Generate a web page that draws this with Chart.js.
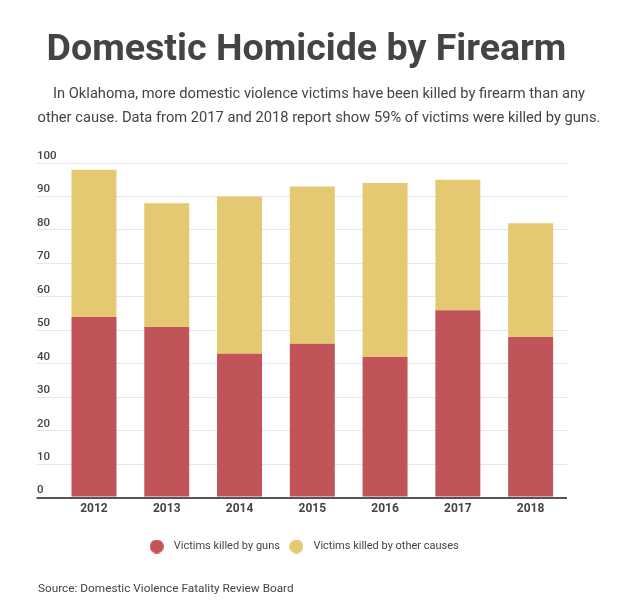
<!DOCTYPE html>
<html>
<head>
<meta charset="utf-8">
<script src="https://cdn.jsdelivr.net/npm/chart.js@4.4.0/dist/chart.umd.min.js"></script>
<style>
  html, body { margin: 0; padding: 0; background: #fff; }
  #wrap { position: relative; width: 628px; height: 600px; overflow: hidden; font-family: Roboto, "Noto Sans", sans-serif; color: #444; }
  #c { position: absolute; left: 0; top: 0; }
  .t { position: absolute; white-space: nowrap; }
  #title { left: 0; width: 613px; top: 26px; text-align: center; font-size: 37.6px; line-height: 42px; font-weight: bold; color: #444; }
  #sub { left: 10px; width: 618px; top: 81px; text-align: center; font-size: 14.7px; line-height: 24px; color: #444; }
  #src { left: 38px; top: 581px; font-size: 11.8px; line-height: 14px; color: #444; }
</style>
</head>
<body>
<div id="wrap">
  <canvas id="c" width="628" height="600"></canvas>
  <div class="t" id="title">Domestic Homicide by Firearm</div>
  <div class="t" id="sub">In Oklahoma, more domestic violence victims have been killed by firearm than any<br>other cause. Data from 2017 and 2018 report show 59% of victims were killed by guns.</div>
  <div class="t" id="src">Source: Domestic Violence Fatality Review Board</div>
</div>
<script>
const years = ['2012', '2013', '2014', '2015', '2016', '2017', '2018'];
const killedByGuns = [54, 51, 43, 46, 42, 56, 48];
const killedByOther = [44, 37, 47, 47, 52, 39, 34];
const yTickValues = [0, 10, 20, 30, 40, 50, 60, 70, 80, 90, 100];
const seriesNames = ['Victims killed by guns', 'Victims killed by other causes'];
const seriesColors = ['#c05458', '#e5c972'];

function dot(color) {
  const c = document.createElement('canvas');
  c.width = 14; c.height = 14;
  const g = c.getContext('2d');
  g.fillStyle = color;
  g.beginPath();
  g.arc(7, 7, 7, 0, Math.PI * 2);
  g.fill();
  return c;
}
const dots = seriesColors.map(dot);

new Chart(document.getElementById('c'), {
  type: 'bar',
  data: {
    labels: years,
    datasets: [
      { label: seriesNames[0], data: killedByGuns, backgroundColor: seriesColors[0], borderWidth: 0 },
      { label: seriesNames[1], data: killedByOther, backgroundColor: seriesColors[1], borderWidth: 0 }
    ]
  },
  options: {
    responsive: false,
    animation: false,
    layout: { padding: { top: 163, left: 37, right: 61, bottom: 38 } },
    datasets: { bar: { categoryPercentage: 1, barPercentage: 0.618 } },
    scales: {
      x: {
        stacked: true,
        grid: { display: false, drawTicks: false },
        border: { display: false },
        ticks: { color: '#444', padding: 4, font: { family: 'Roboto', size: 12, weight: 'bold' } },
        afterFit: s => { s.height += 16; }
      },
      y: {
        stacked: true,
        min: 0,
        max: 100,
        afterBuildTicks: s => { s.ticks = yTickValues.map(v => ({ value: v })); },
        afterFit: s => { s.width = 20.6; },
        border: { display: false },
        grid: {
          color: ctx => (ctx.tick && ctx.tick.value === 0) ? '#555' : '#e6e6e6',
          lineWidth: ctx => (ctx.tick && ctx.tick.value === 0) ? 2 : 1,
          tickLength: 21,
          drawTicks: true
        },
        ticks: {
          crossAlign: 'far',
          padding: 0,
          labelOffset: -7,
          color: '#444',
          font: { family: 'Roboto', size: 11.5, weight: '500' }
        }
      }
    },
    plugins: {
      tooltip: { enabled: false },
      legend: {
        position: 'bottom',
        labels: {
          usePointStyle: true,
          pointStyleWidth: 23,
          boxHeight: 11,
          padding: 5,
          color: '#444',
          font: { family: 'Roboto', size: 11 },
          generateLabels: chart => {
            const items = Chart.defaults.plugins.legend.labels.generateLabels(chart);
            items.forEach((it, i) => { it.pointStyle = dots[i]; it.lineWidth = 0; it.strokeStyle = 'rgba(0,0,0,0)'; });
            return items;
          }
        }
      }
    }
  }
});
</script>
</body>
</html>
